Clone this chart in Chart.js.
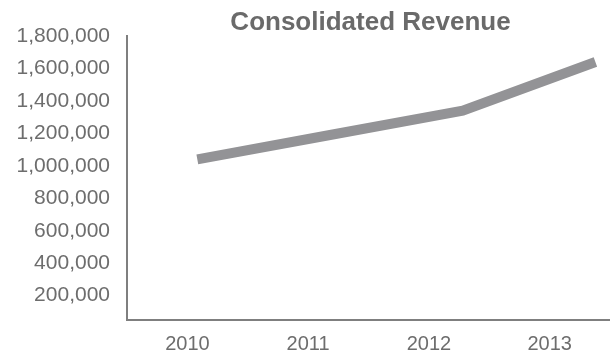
<!DOCTYPE html>
<html>
<head>
<meta charset="utf-8">
<script src="https://cdn.jsdelivr.net/npm/chart.js@4/dist/chart.umd.min.js"></script>
<style>
  html, body { margin: 0; padding: 0; background: #ffffff; }
  #wrap { width: 610px; height: 357px; }
</style>
</head>
<body>
<div id="wrap"><canvas id="chart"></canvas></div>
<script>
// Consolidated revenue by fiscal year
const years = [2010, 2011, 2012, 2013];
const yearLabels = ['2010', '2011', '2012', '2013'];
const revenue = [1040000, 1190000, 1340000, 1640000];
const yTicks = [200000, 400000, 600000, 800000, 1000000, 1200000, 1400000, 1600000, 1800000];

const chartTitle = 'Consolidated Revenue';
const FONT = "'Liberation Sans', Arial, sans-serif";
const TEXT = '#6d6d6d';
const AXIS = '#7f7f7f';

// Title centred over the plotting area rather than the whole canvas
const areaTitle = {
  id: 'areaTitle',
  afterDraw(chart) {
    const { ctx, chartArea } = chart;
    ctx.save();
    ctx.font = 'bold 26px ' + FONT;
    ctx.fillStyle = '#6a6a6a';
    ctx.textAlign = 'center';
    ctx.textBaseline = 'alphabetic';
    ctx.fillText(chartTitle, (chartArea.left + chartArea.right) / 2 + 2, 30);
    ctx.restore();
  }
};

new Chart(document.getElementById('chart'), {
  type: 'line',
  data: {
    labels: yearLabels,
    datasets: [{
      label: 'Revenue',
      data: years.map((yr, i) => ({ x: yr, y: revenue[i] })),
      xAxisID: 'xLine',
      borderColor: '#939396',
      borderWidth: 10,
      borderCapStyle: 'butt',
      borderJoinStyle: 'miter',
      pointRadius: 0,
      tension: 0,
      fill: false
    }]
  },
  options: {
    responsive: true,
    maintainAspectRatio: false,
    animation: false,
    layout: { padding: { top: 36, right: 0, bottom: 0, left: 0 } },
    plugins: {
      legend: { display: false },
      title: { display: false },
      tooltip: { enabled: false }
    },
    scales: {
      x: {
        type: 'category',
        offset: true,
        grid: { display: false, drawTicks: false },
        border: { display: true, color: AXIS, width: 2 },
        ticks: { color: TEXT, font: { family: FONT, size: 20 }, padding: 12, maxRotation: 0 },
        afterFit(scale) { scale.height = 37; }
      },
      xLine: {
        type: 'linear',
        display: false,
        min: 2009.47,
        max: 2013.11
      },
      y: {
        type: 'linear',
        min: 50000,
        max: 1800000,
        grid: { display: false, drawTicks: false },
        border: { display: true, color: AXIS, width: 2 },
        afterBuildTicks(scale) { scale.ticks = yTicks.map(v => ({ value: v })); },
        ticks: {
          color: TEXT,
          font: { family: FONT, size: 21 },
          padding: 17,
          callback: v => v.toLocaleString('en-US')
        },
        afterFit(scale) { scale.width = 127; }
      }
    }
  },
  plugins: [areaTitle]
});
</script>
</body>
</html>
